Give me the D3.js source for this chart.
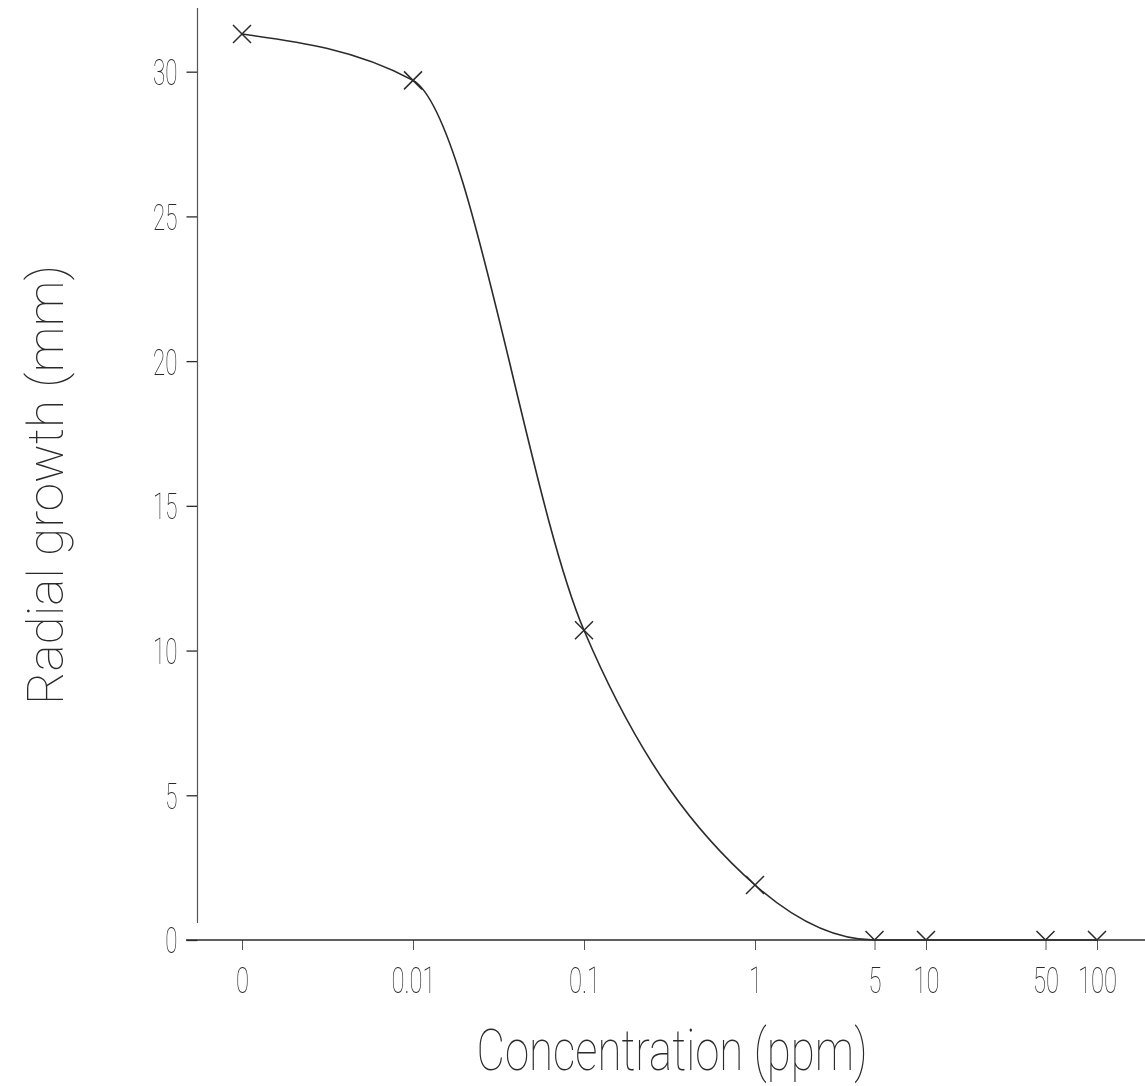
<!DOCTYPE html>
<html>
<head>
<meta charset="utf-8">
<script src="https://cdn.jsdelivr.net/npm/d3@7"></script>
<style>
  html, body { margin: 0; padding: 0; background: #fff; }
  svg { display: block; filter: grayscale(100%); }
  text { font-family: Roboto, "Liberation Sans Narrow", "DejaVu Sans", sans-serif; font-weight: 100; fill: #2a2a2a; }
</style>
</head>
<body>
<svg id="chart" width="1145" height="1086"></svg>
<script>
// Concentration levels tested (ppm) and the matching tick labels
const concentrations = [0, 0.01, 0.1, 1, 5, 10, 50, 100];
const concLabels = ["0", "0.01", "0.1", "1", "5", "10", "50", "100"];
// Mean radial growth of the colony (mm) at each concentration
const growth = [31.3, 29.7, 10.7, 1.9, 0, 0, 0, 0];
// Y-axis tick values
const yTicks = [0, 5, 10, 15, 20, 25, 30];

// The untreated control (0 ppm) sits one decade below the lowest dose on the log axis
const CONTROL_POS = 0.001;
const pos = c => (c === 0 ? CONTROL_POS : c);

const svg = d3.select("#chart");

const x = d3.scaleLog().domain([CONTROL_POS, 100]).range([242, 1097]);
const y = d3.scaleLinear().domain([0, 32.2]).range([940, 8]);

const ink = "#2b2b2b";

// Squeeze glyphs horizontally to get the narrow plotter lettering
function narrow(sel, factor) {
  sel.each(function () {
    const w = this.getComputedTextLength();
    d3.select(this).attr("textLength", w * factor).attr("lengthAdjust", "spacingAndGlyphs");
  });
}

// Y axis
const yAxis = svg.append("g")
  .attr("transform", `translate(${x.range()[0] - 44.5},0)`)
  .call(d3.axisLeft(y).tickValues(yTicks).tickSize(11).tickPadding(9).tickFormat(d3.format("d")));
yAxis.select(".domain").remove();
yAxis.append("line")
  .attr("x1", 0).attr("x2", 0)
  .attr("y1", y(32.2)).attr("y2", y(0) - 17)
  .attr("stroke", "#555").attr("stroke-width", 1.2);
yAxis.selectAll(".tick line").attr("stroke", ink).attr("stroke-width", 1.3);
yAxis.selectAll(".tick text")
  .attr("font-size", 36).attr("fill", ink).attr("dy", "0.36em")
  .call(narrow, 0.62);

// X axis
const xAxis = svg.append("g")
  .attr("transform", `translate(0,${y(0)})`)
  .call(d3.axisBottom(x)
    .tickValues(concentrations.map(pos))
    .tickSize(10).tickPadding(17)
    .tickFormat((d, i) => concLabels[i]));
xAxis.select(".domain").remove();
xAxis.append("line")
  .attr("x1", 186).attr("x2", 1145)
  .attr("y1", 0).attr("y2", 0)
  .attr("stroke", ink).attr("stroke-width", 1.3);
xAxis.selectAll(".tick line").attr("stroke", "#555").attr("stroke-width", 1);
xAxis.selectAll(".tick text")
  .attr("font-size", 36).attr("fill", ink)
  .call(narrow, 0.66);

// Axis titles
svg.append("text")
  .attr("transform", `translate(63,485) rotate(-90)`)
  .attr("text-anchor", "middle")
  .attr("font-size", 50)
  .text("Radial growth (mm)")
  .attr("textLength", 440).attr("lengthAdjust", "spacingAndGlyphs");

svg.append("text")
  .attr("x", 672).attr("y", 1070)
  .attr("text-anchor", "middle")
  .attr("font-size", 58)
  .text("Concentration (ppm)")
  .attr("textLength", 391).attr("lengthAdjust", "spacingAndGlyphs");

// Dose-response curve
const pts = concentrations.map((c, i) => [x(pos(c)), y(growth[i])]);
svg.append("path")
  .attr("d", d3.line().curve(d3.curveMonotoneX)(pts))
  .attr("fill", "none")
  .attr("stroke", ink)
  .attr("stroke-width", 1.6);

// Markers are clipped at the baseline, so zero readings show only their upper arms
svg.append("clipPath").attr("id", "above-axis")
  .append("rect")
  .attr("x", 0).attr("y", 0)
  .attr("width", 1145).attr("height", y(0));

const s = 9;
svg.append("g")
  .attr("clip-path", "url(#above-axis)")
  .selectAll("path.marker")
  .data(pts)
  .join("path")
  .attr("class", "marker")
  .attr("d", d => `M${d[0] - s},${d[1] - s}L${d[0] + s},${d[1] + s}M${d[0] - s},${d[1] + s}L${d[0] + s},${d[1] - s}`)
  .attr("stroke", ink)
  .attr("stroke-width", 1.5)
  .attr("fill", "none");
</script>
</body>
</html>
